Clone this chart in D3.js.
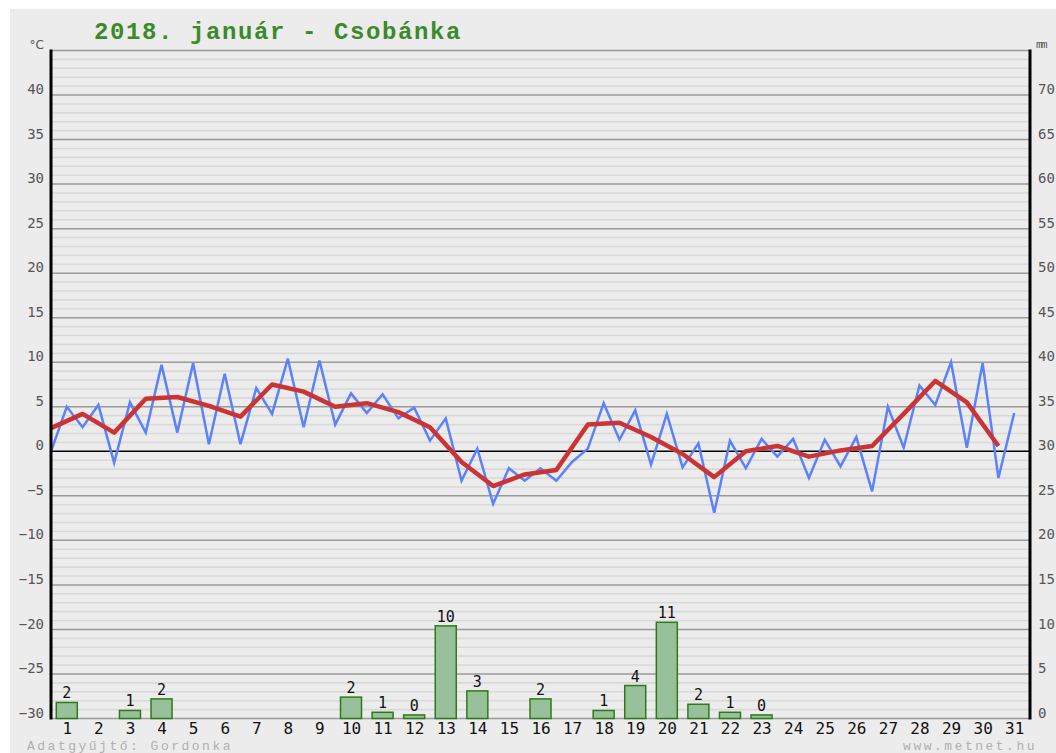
<!DOCTYPE html>
<html>
<head>
<meta charset="utf-8">
<script src="https://cdn.jsdelivr.net/npm/d3@7"></script>
<style>
  body { margin: 0; background: #fff; }
  svg { display: block; }
</style>
</head>
<body>
<svg id="chart" width="1056" height="753"></svg>
<script>
// temperature every 12 hours, starting at day 0.5
const temp12h = [0.0, 5.0, 2.7, 5.2, -1.3, 5.5, 2.1, 9.7, 2.1, 9.9, 0.8, 8.7, 0.8, 7.1, 4.2, 10.4,
  2.7, 10.2, 3.0, 6.5, 4.3, 6.4, 3.7, 4.9, 1.2, 3.7, -3.3, 0.3, -5.9, -1.9, -3.3, -1.9,
  -3.3, -1.2, 0.3, 5.4, 1.3, 4.6, -1.5, 4.2, -1.8, 0.9, -6.9, 1.2, -1.9, 1.4, -0.6, 1.4,
  -3.0, 1.3, -1.7, 1.6, -4.5, 5.0, 0.4, 7.4, 5.2, 10.0, 0.4, 9.9, -3.0, 4.3];
// daily mean, drawn at day - 0.5
const tempMean = [2.6, 4.2, 2.1, 5.9, 6.1, 5.1, 3.9, 7.5, 6.7, 5.0, 5.4, 4.4, 2.7, -1.2, -3.9, -2.6,
  -2.1, 3.0, 3.2, 1.6, -0.3, -2.9, 0.0, 0.6, -0.6, 0.1, 0.6, 4.2, 7.9, 5.5, 0.6];
const rainDays = [1, 3, 4, 10, 11, 12, 13, 14, 16, 18, 19, 20, 21, 22, 23];
const rainMm   = [1.8, 0.9, 2.2, 2.4, 0.7, 0.4, 10.4, 3.1, 2.2, 0.9, 3.7, 10.8, 1.6, 0.7, 0.4];
const days = d3.range(1, 32);
const tempTicks = d3.range(-30, 41, 5);
const rainTicks = d3.range(0, 71, 5);

const svg = d3.select("#chart");
const plotLeft = 51, plotRight = 1030, plotTop = 50.5, plotBottom = 718.5;

let x = d3.scaleLinear().domain([0.5, 31.5]).range([plotLeft, plotRight]);
let yT = d3.scaleLinear().domain([-30, 45]).range([plotBottom, plotTop]);
let yP = d3.scaleLinear().domain([0, 75]).range([plotBottom, plotTop]);

svg.append("rect").attr("x", 10).attr("y", 9).attr("width", 1046).attr("height", 744)
   .attr("fill", "#ececec");

// grid
svg.append("g").selectAll("line")
   .data(d3.range(-30, 46, 1))
   .enter().append("line")
   .attr("x1", plotLeft).attr("x2", plotRight)
   .attr("y1", d => yT(d)).attr("y2", d => yT(d))
   .attr("stroke", d => d === 0 ? "#000" : (d % 5 === 0 ? "#9a9a9a" : "#d9d9d9"))
   .attr("stroke-width", d => d === 0 ? 1.5 : (d % 5 === 0 ? 1.5 : 1.6));

// bars
let bw = 21;
svg.append("g").selectAll("rect")
   .data(rainDays)
   .enter().append("rect")
   .attr("x", (d) => x(d) - bw / 2)
   .attr("y", (d, i) => yP(rainMm[i]))
   .attr("width", bw)
   .attr("height", (d, i) => yP(0) - yP(rainMm[i]))
   .attr("fill", "#98c19b")
   .attr("stroke", "#2f7a18")
   .attr("stroke-width", 1.5);

svg.append("g").selectAll("text")
   .data(rainDays)
   .enter().append("text")
   .attr("x", d => x(d))
   .attr("y", (d, i) => yP(rainMm[i]) - 4)
   .attr("text-anchor", "middle")
   .attr("font-family", "DejaVu Sans Mono")
   .attr("font-size", 15)
   .attr("fill", "#111")
   .text((d, i) => Math.round(rainMm[i]));

// temperature lines
let line12 = d3.line().x((d, i) => x(0.5 + i * 0.5)).y(d => yT(d));
svg.append("path").datum(temp12h)
   .attr("d", line12)
   .attr("fill", "none")
   .attr("stroke", "#5b82fb")
   .attr("stroke-width", 2.5)
   .attr("stroke-linejoin", "miter");

let lineMean = d3.line().x((d, i) => x(0.5 + i)).y(d => yT(d));
svg.append("path").datum(tempMean)
   .attr("d", lineMean)
   .attr("fill", "none")
   .attr("stroke", "#cc3333")
   .attr("stroke-width", 4.5)
   .attr("stroke-linejoin", "round");

// axes lines
svg.append("line").attr("x1", plotLeft).attr("x2", plotLeft).attr("y1", plotTop - 1).attr("y2", plotBottom + 1)
   .attr("stroke", "#000").attr("stroke-width", 3);
svg.append("line").attr("x1", plotRight).attr("x2", plotRight).attr("y1", plotTop - 1).attr("y2", plotBottom + 1)
   .attr("stroke", "#000").attr("stroke-width", 3);

// tick labels (sit just above their grid line)
let axL = svg.append("g").attr("transform", "translate(" + (plotLeft - 7) + ",0)")
   .call(d3.axisLeft(yT).tickValues(tempTicks).tickSize(0).tickPadding(0)
           .tickFormat(d => d < 0 ? "\u2212" + Math.abs(d) : d));
let axR = svg.append("g").attr("transform", "translate(" + (plotRight + 8) + ",0)")
   .call(d3.axisRight(yP).tickValues(rainTicks).tickSize(0).tickPadding(0));
let axB = svg.append("g").attr("transform", "translate(0," + (plotBottom + 4) + ")")
   .call(d3.axisBottom(x).tickValues(days).tickSize(0).tickPadding(0));

[axL, axR].forEach(function(a){
  a.select(".domain").remove();
  a.selectAll("text").attr("font-family", "DejaVu Sans Mono").attr("font-size", 14)
   .attr("fill", "#555").attr("dy", "-0.1em");
});
axB.select(".domain").remove();
axB.selectAll("text").attr("font-family", "DejaVu Sans Mono").attr("font-size", 16)
   .attr("fill", "#111").attr("dy", "0.72em");

// unit labels
svg.append("text").attr("x", 44).attr("y", 49).attr("text-anchor", "end")
   .attr("font-family", "DejaVu Sans").attr("font-size", 12).attr("fill", "#555").text("°C");
svg.append("text").attr("x", 1036).attr("y", 48)
   .attr("font-family", "Liberation Mono").attr("font-size", 11).attr("fill", "#555")
   .attr("letter-spacing", -1.5).text("mm");

// title
svg.append("text").attr("x", 94).attr("y", 39)
   .attr("font-family", "Liberation Mono").attr("font-size", 24)
   .attr("font-weight", "bold").attr("letter-spacing", 1.6)
   .attr("fill", "#3a8a2a").text("2018. január - Csobánka");

// footer
svg.append("text").attr("x", 27).attr("y", 749.5)
   .attr("font-family", "Liberation Mono").attr("font-size", 13).attr("letter-spacing", 2.5)
   .attr("fill", "#b0b0b0").text("Adatgyűjtő: Gordonka");
svg.append("text").attr("x", 1037).attr("y", 749.5).attr("text-anchor", "end")
   .attr("font-family", "Liberation Mono").attr("font-size", 13).attr("letter-spacing", 2.5)
   .attr("fill", "#b0b0b0").text("www.metnet.hu");
</script>
</body>
</html>
